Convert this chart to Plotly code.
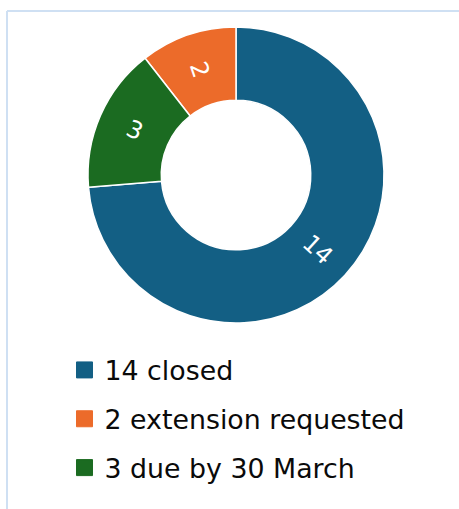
import math
import plotly.graph_objects as go

labels = ["14 closed", "2 extension requested", "3 due by 30 March"]
values = [14, 2, 3]
slice_text = ["14", "2", "3"]
colors = ["#135f84", "#ec6b2a", "#1b6b21"]

W, H = 459, 509
dom_x = [88 / W, 384 / W]
dom_y = [1 - 323 / H, 1 - 27 / H]

fig = go.Figure()
fig.add_trace(go.Pie(
    labels=labels,
    values=values,
    textinfo="none",
    hole=0.505,
    sort=False,
    direction="counterclockwise",
    rotation=0,
    marker=dict(colors=colors, line=dict(color="white", width=1.5)),
    domain=dict(x=dom_x, y=dom_y),
    showlegend=False,
))

# radial slice labels placed at the middle of each ring segment
total = sum(values)
cx_px = (dom_x[0] + dom_x[1]) / 2 * W
cy_px = (dom_y[0] + dom_y[1]) / 2 * H
outer = min((dom_x[1] - dom_x[0]) * W, (dom_y[1] - dom_y[0]) * H) / 2
r_mid = outer * (1 + 0.505) / 2
start = 360 * values[0] / total
cum = 0
annotations = []
for v, t in zip(values, slice_text):
    mid = (start - (cum + v / 2) * 360 / total) % 360
    cum += v
    a = math.radians(mid)
    annotations.append(dict(
        x=(cx_px + r_mid * math.sin(a)) / W,
        y=(cy_px + r_mid * math.cos(a)) / H,
        xref="paper", yref="paper", text=t, showarrow=False,
        textangle=(mid % 180) - 90,
        xanchor="center", yanchor="middle",
        font=dict(color="white", size=24, family="DejaVu Sans"),
    ))

for i, (lab, col) in enumerate(zip(labels, colors)):
    fig.add_trace(go.Scatter(
        x=[None], y=[None], mode="markers", name=lab,
        legendgroup=f"g{i}",
        marker=dict(symbol="square", size=16, color=col,
                    line=dict(color=col, width=1)),
    ))

fig.update_layout(
    width=W, height=H,
    margin=dict(l=0, r=0, t=0, b=0),
    paper_bgcolor="white", plot_bgcolor="white",
    xaxis=dict(visible=False), yaxis=dict(visible=False),
    annotations=annotations,
    legend=dict(
        x=64.5 / W, y=1 - 346 / H, xanchor="left", yanchor="top",
        traceorder="grouped", tracegroupgap=11,
        font=dict(family="DejaVu Sans", size=26.8, color="#0a0a0a"),
        itemsizing="trace",
    ),
    shapes=[
        dict(type="line", xref="paper", yref="paper",
             x0=7 / W, x1=7 / W, y0=0, y1=1 - 11 / H,
             line=dict(color="#cfe0f3", width=2)),
        dict(type="line", xref="paper", yref="paper",
             x0=7 / W, x1=1, y0=1 - 11 / H, y1=1 - 11 / H,
             line=dict(color="#cfe0f3", width=2)),
    ],
)

fig.write_html("out.html", config={"displayModeBar": False},
               post_script="document.body.style.margin='0';")
